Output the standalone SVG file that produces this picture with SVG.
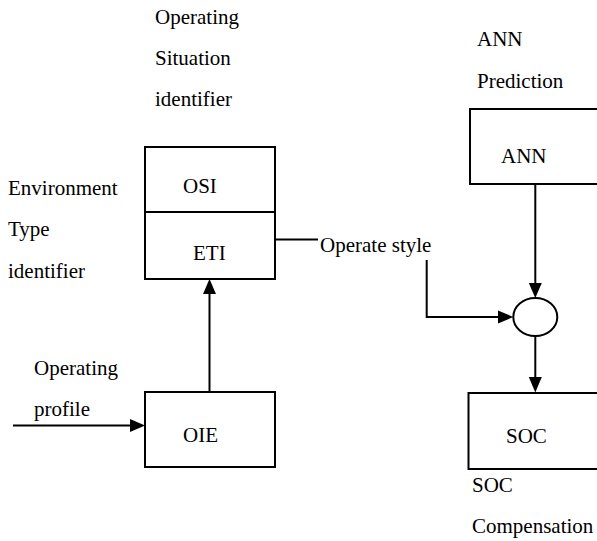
<svg xmlns="http://www.w3.org/2000/svg" width="597" height="541" viewBox="0 0 597 541">
<style>
text{font-family:'Liberation Serif','Times New Roman',Times,serif;font-size:21px;fill:#000}
.box{fill:none;stroke:#000;stroke-width:2}
.ln{fill:none;stroke:#000;stroke-width:2}
.ah{fill:#000}
</style>
<rect width="597" height="541" fill="#fff"/>
<g id="labels">
<text x="155" y="24">Operating</text>
<text x="155" y="65">Situation</text>
<text x="155" y="106">identifier</text>
<text x="8" y="195">Environment</text>
<text x="8" y="236">Type</text>
<text x="8" y="278">identifier</text>
<text x="34" y="375">Operating</text>
<text x="34" y="416">profile</text>
<text x="477" y="46">ANN</text>
<text x="477" y="88">Prediction</text>
<text x="472" y="492">SOC</text>
<text x="472" y="533">Compensation</text>
</g>
<g id="osi-eti">
<rect class="box" x="145" y="147" width="130" height="132"/>
<line class="ln" x1="145" y1="212" x2="275" y2="212"/>
<text x="183" y="193">OSI</text>
<text x="193" y="260">ETI</text>
</g>
<g id="oie">
<rect class="box" x="145" y="392" width="130" height="75"/>
<text x="183" y="442">OIE</text>
</g>
<g id="ann">
<rect class="box" x="470" y="109" width="140" height="75"/>
<text x="501" y="163">ANN</text>
</g>
<g id="sum">
<ellipse class="box" cx="535.3" cy="317" rx="22" ry="19"/>
</g>
<g id="soc">
<rect class="box" x="468.5" y="393" width="140" height="76"/>
<text x="506" y="443">SOC</text>
</g>
<g id="connectors">
<line class="ln" x1="13" y1="425.5" x2="132" y2="425.5"/>
<polygon class="ah" points="145,425.5 130,419 130,432"/>
<line class="ln" x1="209.5" y1="392" x2="209.5" y2="292"/>
<polygon class="ah" points="209.5,279 203,294 216,294"/>
<line class="ln" x1="275" y1="239.5" x2="318" y2="239.5"/>
<text x="320" y="252">Operate style</text>
<polyline class="ln" points="426.7,260 426.7,317 501,317"/>
<polygon class="ah" points="513.3,317 498,310.5 498,323.5"/>
<line class="ln" x1="535.3" y1="184" x2="535.3" y2="286"/>
<polygon class="ah" points="535.3,298 528.8,283 541.8,283"/>
<line class="ln" x1="535.3" y1="336" x2="535.3" y2="380"/>
<polygon class="ah" points="535.3,392.5 528.8,377 541.8,377"/>
</g>
</svg>
